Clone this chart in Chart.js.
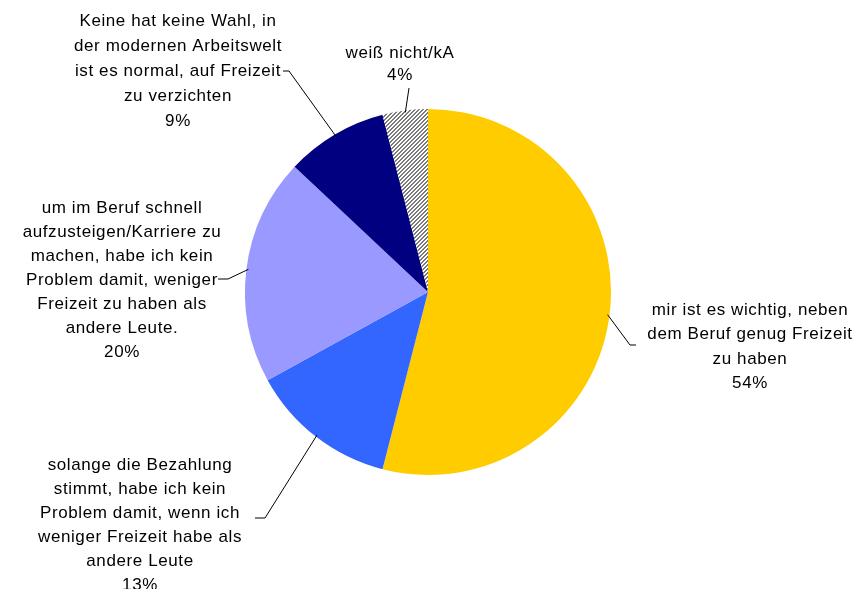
<!DOCTYPE html>
<html><head><meta charset="utf-8">
<script src="https://cdn.jsdelivr.net/npm/chart.js@4"></script>
<style>html,body{margin:0;padding:0;background:#fff}#wrap{width:857px;height:589px;position:relative}</style>
</head><body><div id="wrap"><canvas id="c" width="857" height="589"></canvas></div>
<script>
const categories = [
  "mir ist es wichtig, neben dem Beruf genug Freizeit zu haben",
  "solange die Bezahlung stimmt, habe ich kein Problem damit, wenn ich weniger Freizeit habe als andere Leute",
  "um im Beruf schnell aufzusteigen/Karriere zu machen, habe ich kein Problem damit, weniger Freizeit zu haben als andere Leute.",
  "Keine hat keine Wahl, in der modernen Arbeitswelt ist es normal, auf Freizeit zu verzichten",
  "weiß nicht/kA"
];
const values = [54, 13, 20, 9, 4];
const labelLines = [
  ["mir ist es wichtig, neben", "dem Beruf genug Freizeit", "zu haben"],
  ["solange die Bezahlung", "stimmt, habe ich kein", "Problem damit, wenn ich", "weniger Freizeit habe als", "andere Leute"],
  ["um im Beruf schnell", "aufzusteigen/Karriere zu", "machen, habe ich kein", "Problem damit, weniger", "Freizeit zu haben als", "andere Leute."],
  ["Keine hat keine Wahl, in", "der modernen Arbeitswelt", "ist es normal, auf Freizeit", "zu verzichten"],
  ["weiß nicht/kA"]
];

function hatch(){
  const p = document.createElement('canvas'); p.width = 4; p.height = 4;
  const g = p.getContext('2d');
  g.fillStyle = '#ffffff'; g.fillRect(0,0,4,4);
  g.fillStyle = '#7a7a7a';
  for (let i=0;i<4;i++){ g.fillRect(3-i, i, 1, 1); g.fillRect((4-i)%4, i, 1, 1); }
  return g.createPattern(p, 'repeat');
}
const ctx0 = document.getElementById('c').getContext('2d');
const colors = ['#FFCC00', '#3366FF', '#9999FF', '#000080', hatch()];

const layout = [
  {x: 750, y: 310, lh: 24.5, lead: [[636,345],[630,345]]},
  {x: 140, y: 465, lh: 24, lead: [[255,518],[265,518]]},
  {x: 122, y: 208, lh: 24, lead: [[218,279],[228,279]]},
  {x: 178, y: 21, lh: 25, lead: [[283,71],[289,71]]},
  {x: 400, y: 53, lh: 22, lead: [[409,88]]}
];

const labelPlugin = {
  id: 'labels',
  afterDatasetsDraw(chart){
    const ctx = chart.ctx;
    const meta = chart.getDatasetMeta(0);
    ctx.save();
    ctx.font = '17px "Liberation Sans", Arial, sans-serif';
    if ('letterSpacing' in ctx) ctx.letterSpacing = '0.6px';
    ctx.fillStyle = '#000';
    ctx.textAlign = 'center';
    ctx.textBaseline = 'middle';
    meta.data.forEach((arc, i) => {
      const L = layout[i];
      const lines = labelLines[i].concat([values[i] + '%']);
      lines.forEach((t, k) => ctx.fillText(t, L.x, L.y + k*L.lh));
      const mid = (arc.startAngle + arc.endAngle)/2;
      const ex = arc.x + Math.cos(mid)*(arc.outerRadius - 2);
      const ey = arc.y + Math.sin(mid)*(arc.outerRadius - 2);
      ctx.beginPath();
      ctx.strokeStyle = '#000'; ctx.lineWidth = 1;
      ctx.moveTo(L.lead[0][0], L.lead[0][1]);
      for (let j=1;j<L.lead.length;j++) ctx.lineTo(L.lead[j][0], L.lead[j][1]);
      ctx.lineTo(ex, ey);
      ctx.stroke();
    });
    ctx.restore();
  }
};

new Chart(ctx0, {
  type: 'pie',
  data: {labels: categories, datasets: [{data: values, backgroundColor: colors, borderWidth: 0}]},
  options: {
    responsive: false, animation: false,
    layout: {padding: {top: 109, bottom: 114, left: 0, right: 1}},
    plugins: {legend: {display: false}, tooltip: {enabled: false}},
  },
  plugins: [labelPlugin]
});
</script></body></html>
